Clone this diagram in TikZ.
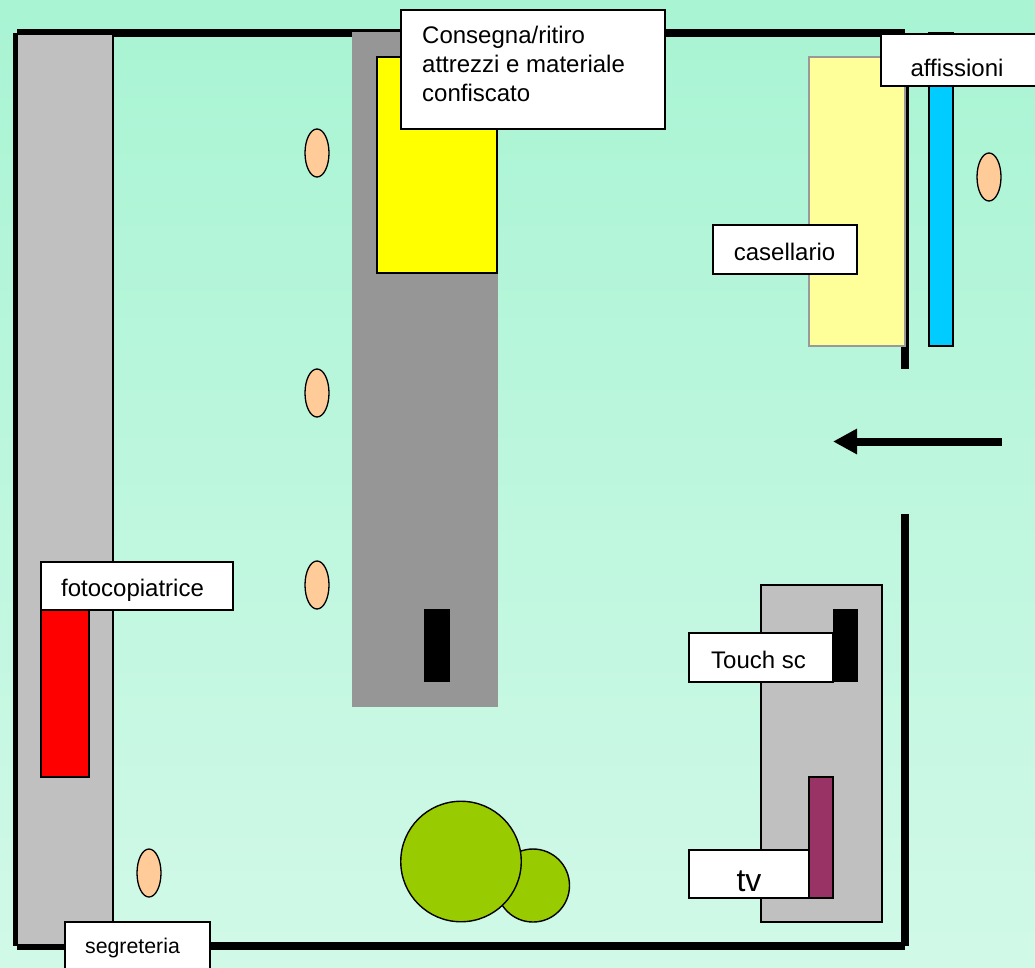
\documentclass[tikz,border=0pt]{standalone}
\usepackage{fontspec}
\setmainfont{Liberation Sans}
\usetikzlibrary{shapes.geometric,arrows.meta}
\definecolor{bgtop}{HTML}{A8F4D3}
\definecolor{bgbot}{HTML}{D1F9E8}
\definecolor{lgrey}{HTML}{C0C0C0}
\definecolor{mgrey}{HTML}{969696}
\definecolor{pale}{HTML}{FFFF99}
\definecolor{sky}{HTML}{00CCFF}
\definecolor{skin}{HTML}{FFCC99}
\definecolor{plum}{HTML}{993366}
\definecolor{olive}{HTML}{99CC00}
\definecolor{pureyellow}{HTML}{FFFF00}
\tikzset{
  x=1pt,y=-1pt,
  wall/.style={line width=8pt,draw=black,line cap=butt},
  block/.style={draw=black,line width=1.3pt},
  lab/.style={draw=black,fill=white,line width=1.3pt,inner sep=0pt,outer sep=0pt,anchor=north west},
  txt/.style={inner sep=0pt,font=\fontsize{24}{29}\selectfont},
  person/.style={ellipse,draw=black,fill=skin,line width=1.3pt,minimum width=24pt,minimum height=48pt,inner sep=0pt},
  plant/.style={circle,draw=black,fill=olive,line width=1.4pt,inner sep=0pt},
  flow/.style={line width=8pt,draw=black},
}
\begin{document}
\begin{tikzpicture}
\useasboundingbox (0,0) rectangle (1035,967);
\shade[top color=bgtop,bottom color=bgbot] (0,0) rectangle (1035,967);
% walls
\coordinate (tl) at (17,33.3);
\coordinate (tr) at (905,33.3);
\coordinate (bl) at (17,945.5);
\coordinate (br) at (905,945.5);
\coordinate (gapA) at (905,369);
\coordinate (gapB) at (905,514);
\draw[wall] (tl) -- (tr);
\draw[wall] (tl) -- (bl);
\draw[wall] (bl) -- (br);
\draw[wall] (tr) -- (gapA);
\draw[wall] (gapB) -- (br);
% left counter
\draw[block,fill=lgrey] (17.5,34.5) rectangle (113,945);
% centre table
\fill[mgrey] (352,32) rectangle (498,707);
\draw[block,fill=pureyellow] (377,57) rectangle (497,273);
\node[lab,minimum width=264pt,minimum height=119pt] (conseg) at (401,10) {};
\node[txt,anchor=north west,align=left] (consegT) at (422,26) {Consegna/ritiro\\attrezzi e materiale\\confiscato};
% casellario
\draw[draw=black!40,line width=1.3pt,fill=pale] (809,57) rectangle (905,346);
\draw[block,fill=sky] (929,33) rectangle (953,346);
\node[lab,minimum width=160pt,minimum height=52pt] (aff) at (881,34) {};
\node[txt] (affT) at (957,68) {affissioni};
\node[lab,minimum width=144pt,minimum height=49pt] (cas) at (713,225) {};
\node[txt] (casT) at (784.5,252) {casellario};
% people
\node[person] (p1) at (317,153) {};
\node[person] (p2) at (317,393) {};
\node[person] (p3) at (317,585) {};
\node[person] (p4) at (989,177) {};
\node[person] (p5) at (149,873) {};
% arrow
\coordinate (arS) at (1001.5,441.5);
\coordinate (arE) at (833,441.5);
\draw[flow,-{Triangle[length=24pt,width=24pt]}] (arS) -- (arE);
% fotocopiatrice
\draw[block,fill=red] (41,610) rectangle (89,777);
\node[lab,minimum width=192pt,minimum height=48pt] (foto) at (41,562) {};
\node[txt] (fotoT) at (132.5,590) {fotocopiatrice};
% black sensors
\fill[black] (424,609) rectangle (450,682);
% right unit
\draw[block,fill=lgrey] (761,585) rectangle (882,922);
\fill[black] (833,609) rectangle (858,682);
\node[lab,minimum width=144pt,minimum height=49pt] (touch) at (689,633) {};
\node[txt] (touchT) at (758.5,660) {Touch sc};
\draw[block,fill=plum] (809,777) rectangle (833,898);
\node[lab,minimum width=120pt,minimum height=48pt] (tv) at (689,850) {};
\node[txt,font=\fontsize{32}{36}\selectfont] (tvT) at (749,881) {tv};
% plants
\node[plant,minimum size=73pt] (c2) at (533,885.5) {};
\node[plant,minimum size=120.5pt] (c1) at (461,861.5) {};
% segreteria
\node[lab,minimum width=145pt,minimum height=60pt] (seg) at (65,922) {};
\node[txt,font=\fontsize{21.3}{25}\selectfont] (segT) at (132.5,948) {segreteria};
\end{tikzpicture}
\end{document}
